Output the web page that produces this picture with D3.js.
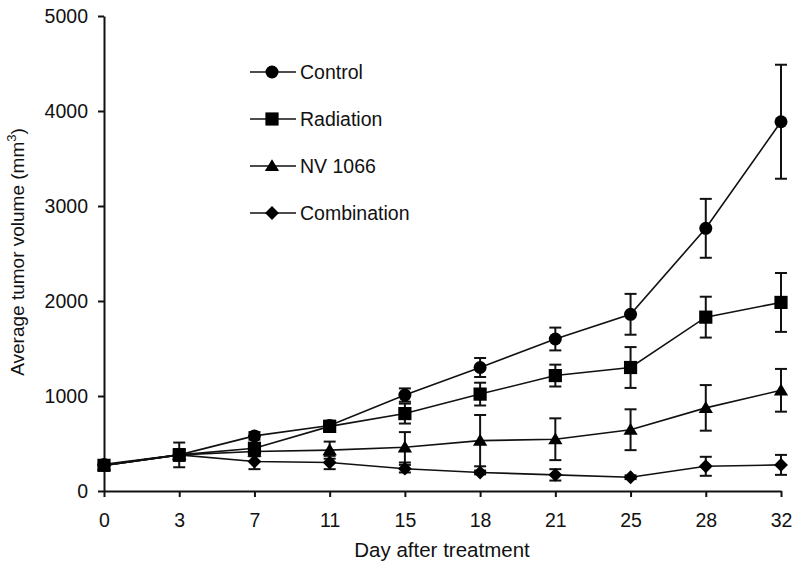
<!DOCTYPE html>
<html><head><meta charset="utf-8">
<script src="https://cdn.jsdelivr.net/npm/d3@7"></script>
<style>body{margin:0;background:#fff}svg{display:block}text{font-family:"Liberation Sans",Arial,sans-serif}</style>
</head><body><svg id="c" width="800" height="568"></svg>
<script>
const days = ["0","3","7","11","15","18","21","25","28","32"];
const yTicks = [0,1000,2000,3000,4000,5000];
const seriesNames = ["Control","Radiation","NV1066","Combination"];
const legendLabels = ["Control","Radiation","NV 1066","Combination"];
const controlMean = [280,380,580,690,1010,1300,1600,1860,2765,3887];
const controlErr  = [40,60,40,50,70,100,120,215,310,600];
const radiationMean = [270,380,450,680,815,1020,1215,1300,1830,1985];
const radiationErr  = [40,130,50,50,105,120,115,215,215,310];
const nv1066Mean = [270,380,415,430,460,530,545,645,875,1060];
const nv1066Err  = [40,60,50,90,160,270,220,215,240,225];
const comboMean = [270,380,310,300,235,195,170,145,260,275];
const comboErr  = [30,60,80,70,40,20,60,20,100,105];

const svg = d3.select("#c");
const x = d3.scalePoint().domain(days).range([104,781]).padding(0);
const y = d3.scaleLinear().domain([0,5000]).range([491,16]);

const FONT = 19.5;

// axes
const ya = svg.append("g").attr("transform","translate(104,0)")
  .call(d3.axisLeft(y).tickValues(yTicks).tickFormat(d3.format("d")).tickSize(6).tickSizeOuter(0).tickPadding(10));
const xa = svg.append("g").attr("transform","translate(0,491)")
  .call(d3.axisBottom(x).tickSize(6).tickSizeOuter(0).tickPadding(16));
[ya,xa].forEach(a=>{
  a.attr("font-size",FONT);
  a.selectAll("path,line").attr("stroke","#111").attr("stroke-width",2);
  a.selectAll("text").attr("font-size",FONT).attr("fill","#111")
   .style("font-family",'"Liberation Sans",Arial,sans-serif');
});

svg.append("text").attr("x",442).attr("y",557).attr("text-anchor","middle")
  .attr("font-size",20.5).attr("fill","#111").text("Day after treatment");
const yt = svg.append("text").attr("transform","translate(24,252) rotate(-90)")
  .attr("text-anchor","middle").attr("font-size",19).attr("fill","#111");
yt.append("tspan").text("Average tumor volume (mm");
yt.append("tspan").attr("font-size",13).attr("dy",-8).text("3");
yt.append("tspan").attr("dy",8).text(")");

// custom symbols
const sym = {
  circle:{draw(c,s){const r=s;c.moveTo(r,0);c.arc(0,0,r,0,2*Math.PI);}},
  square:{draw(c,s){c.rect(-s,-s,2*s,2*s);}},
  triangle:{draw(c,s){c.moveTo(0,-s*1.0);c.lineTo(s*1.05,s*0.75);c.lineTo(-s*1.05,s*0.75);c.closePath();}},
  diamond:{draw(c,s){c.moveTo(0,-s*1.05);c.lineTo(s*1.05,0);c.lineTo(0,s*1.05);c.lineTo(-s*1.05,0);c.closePath();}}
};
const symSize = {circle:6.5,square:6.6,triangle:6.8,diamond:6.6};
const series = [
  {name:seriesNames[0],mean:controlMean,err:controlErr,shape:"circle"},
  {name:seriesNames[1],mean:radiationMean,err:radiationErr,shape:"square"},
  {name:seriesNames[2],mean:nv1066Mean,err:nv1066Err,shape:"triangle"},
  {name:seriesNames[3],mean:comboMean,err:comboErr,shape:"diamond"}
];
const line = d3.line().x((d,i)=>x(days[i])).y(d=>y(d));

series.forEach(s=>{
  svg.append("path").attr("d",line(s.mean)).attr("fill","none")
    .attr("stroke","#111").attr("stroke-width",1.6);
});
series.forEach(s=>{
  const g = svg.append("g").attr("stroke","#111").attr("stroke-width",2);
  s.mean.forEach((m,i)=>{
    const cx = x(days[i]), t = y(m+s.err[i]), b = y(m-s.err[i]);
    g.append("line").attr("x1",cx).attr("x2",cx).attr("y1",t).attr("y2",b);
    g.append("line").attr("x1",cx-6).attr("x2",cx+6).attr("y1",t).attr("y2",t);
    g.append("line").attr("x1",cx-6).attr("x2",cx+6).attr("y1",b).attr("y2",b);
  });
});
series.forEach(s=>{
  const p = d3.symbol().type(sym[s.shape]).size(symSize[s.shape]);
  svg.append("g").selectAll("path").data(s.mean).join("path")
    .attr("transform",(d,i)=>`translate(${x(days[i])},${y(d)})`)
    .attr("d",p()).attr("fill","#000");
});

// legend
const lg = svg.append("g");
const legendY = [72,119,166,213];
series.forEach((s,i)=>{
  const ly = legendY[i];
  lg.append("line").attr("x1",250).attr("x2",296).attr("y1",ly).attr("y2",ly)
    .attr("stroke","#111").attr("stroke-width",1.6);
  lg.append("path").attr("transform",`translate(272,${ly})`)
    .attr("d",d3.symbol().type(sym[s.shape]).size(symSize[s.shape])()).attr("fill","#000");
  lg.append("text").attr("x",300).attr("y",ly+7).attr("font-size",FONT)
    .attr("fill","#111").text(legendLabels[i]);
});
</script></body></html>
